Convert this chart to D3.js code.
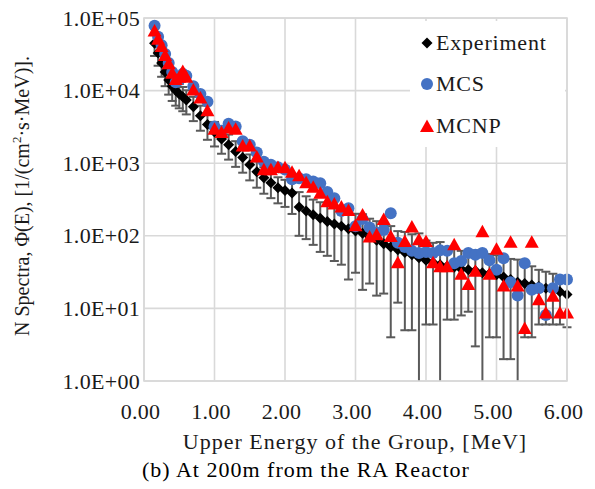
<!DOCTYPE html>
<html><head><meta charset="utf-8">
<script src="https://cdn.jsdelivr.net/npm/d3@7"></script>
<style>body{margin:0;background:#fff}svg{display:block}
svg text{font-family:"Liberation Serif","Times New Roman","DejaVu Serif",serif}</style>
</head><body>
<svg id="c" width="595" height="489"></svg>
<script>
const energy = [0.15,0.2,0.25,0.3,0.35,0.4,0.45,0.5,0.55,0.6,
 0.7,0.8,0.9,1.0,1.1,1.2,1.3,1.4,1.5,1.6,1.7,1.8,1.9,2.0,
 2.1,2.2,2.3,2.4,2.5,2.6,2.7,2.8,2.9,3.0,3.1,3.2,3.3,3.4,3.5,3.6,
 3.7,3.8,3.9,4.0,4.1,4.2,4.3,4.4,4.5,4.6,4.7,4.8,4.9,5.0,5.1,5.2,
 5.3,5.4,5.5,5.6,5.7,5.8,5.9,6.0];
const experiment = [45000,33000,24000,18000,14000,11500,10000,9000,8200,7400,
 6000,4500,3400,2700,2150,1800,1450,1200,950,760,630,540,460,420,
 390,250,220,195,175,158,145,135,125,116,108,97,87,78,70,64,
 59,55,50,46,43,40,38,37,35,34,33,31,30,29,27,25,
 23,22,21,20,19,18,17,15.5];
const experimentErr = [15000,11000,8500,6500,5200,4300,3800,3300,3000,2700,
 2200,1700,1300,1000,800,680,560,460,370,300,250,210,180,170,
 190,150,130,120,115,105,100,95,100,85,90,75,72,62,66,52,
 54,50,58,40,37,42,31,30,27,25,30,33,26,25,25,23,
 24,18,17,14,13,12,11,10];
const mcs = [78000,55000,42000,32000,24000,18000,13000,14000,17000,16000,
 11500,9000,7000,3200,2800,3500,3200,2000,1800,1400,1050,950,880,820,
 600,620,600,560,530,400,330,220,240,135,170,130,110,120,205,80,
 70,62,58,60,58,63,62,42,45,58,55,58,46,34,49,23,
 15,42,18,19,8.1,19,25,25];
const mcnp = [65000,50000,40000,30000,23000,17000,14000,15000,18000,15000,
 10000,7800,5200,2900,2600,3000,2900,1700,1700,1200,800,800,860,850,
 740,660,530,460,380,290,270,245,220,135,190,95,102,165,96,42,
 82,130,87,82,42,37,37,74,29,21,32,112,29,64,20,80,
 20,5.2,80,13,8.5,14.5,8.5,8.5];
const xTicks = [0,1,2,3,4,5,6];
const yTicks = [1,10,100,1000,10000,100000];
const seriesNames = ["Experiment","MCS","MCNP"];

const svg = d3.select("#c");
const L=144, R=567, T=18, B=381;
const x = d3.scaleLinear().domain([0,6]).range([L,R]);
const y = d3.scaleLog().domain([1,100000]).range([B,T]);
const font = "Liberation Serif";
const txt = "#1a1a1a";

const g = svg.append("g");
g.selectAll("line.v").data(xTicks).join("line")
 .attr("x1",d=>x(d)).attr("x2",d=>x(d)).attr("y1",T).attr("y2",B)
 .attr("stroke","#d9d9d9").attr("stroke-width",1.6);
g.selectAll("line.h").data(yTicks).join("line")
 .attr("x1",L).attr("x2",R).attr("y1",d=>y(d)).attr("y2",d=>y(d))
 .attr("stroke","#d9d9d9").attr("stroke-width",1.6);

const xAxis = svg.append("g").attr("transform",`translate(-4,${B})`)
 .call(d3.axisBottom(x).tickValues(xTicks).tickFormat(d3.format(".2f")).tickSize(0).tickPadding(22));
const yAxis = svg.append("g").attr("transform",`translate(${L-1},0)`)
 .call(d3.axisLeft(y).tickValues(yTicks).tickFormat(d=>"1.0E+0"+Math.round(Math.log10(d))).tickSize(0).tickPadding(3));
[xAxis,yAxis].forEach(a=>{a.select(".domain").remove();
 a.attr("font-family",null);
 a.selectAll("text").style("font-family",font).style("letter-spacing","0.3px").attr("font-size",22).attr("fill",txt);});

svg.append("rect").attr("x",410).attr("y",21).attr("width",155).attr("height",126).attr("fill","#fff");

const eb = svg.append("g").attr("stroke","#5a5a5a").attr("stroke-width",2);
energy.forEach((e,i)=>{
  const v=experiment[i], er=experimentErr[i];
  const hi=v+er, lo=Math.max(v-er,1);
  const cx=x(e);
  eb.append("line").attr("x1",cx).attr("x2",cx).attr("y1",y(hi)).attr("y2",y(lo));
  eb.append("line").attr("x1",cx-4.5).attr("x2",cx+4.5).attr("y1",y(hi)).attr("y2",y(hi));
  if(v-er>1) eb.append("line").attr("x1",cx-4.5).attr("x2",cx+4.5).attr("y1",y(lo)).attr("y2",y(lo));
});

const diamond = "M0,-5.5L5.5,0L0,5.5L-5.5,0Z";
const tri = "M0,-7.5L7,5L-7,5Z";
svg.append("g").selectAll("path").data(energy).join("path")
 .attr("d",diamond).attr("fill","#000")
 .attr("transform",(d,i)=>`translate(${x(d)},${y(experiment[i])})`);
svg.append("g").selectAll("circle").data(energy).join("circle")
 .attr("cx",d=>x(d)).attr("cy",(d,i)=>y(mcs[i])).attr("r",6).attr("fill","#4472c4");
svg.append("g").selectAll("path").data(energy).join("path")
 .attr("d",tri).attr("fill","#ff0000")
 .attr("transform",(d,i)=>`translate(${x(d)},${y(mcnp[i])})`);

svg.append("rect").attr("x",L).attr("y",T).attr("width",R-L).attr("height",B-T)
 .attr("fill","none").attr("stroke","#d9d9d9").attr("stroke-width",1.6);

const lg = svg.append("g");
const ly=[43,84,126];
lg.append("path").attr("d",diamond).attr("fill","#000").attr("transform",`translate(427,${ly[0]})`);
lg.append("circle").attr("cx",427).attr("cy",ly[1]).attr("r",6).attr("fill","#4472c4");
lg.append("path").attr("d",tri).attr("fill","#ff0000").attr("transform",`translate(427,${ly[2]+1})`);
lg.selectAll("text").data(seriesNames).join("text")
 .attr("x",436).attr("y",(d,i)=>ly[i]+7).text(d=>d)
 .style("font-family",font).style("letter-spacing","0.8px").attr("font-size",22).attr("fill",txt);

svg.append("text").attr("x",355).attr("y",449).attr("text-anchor","middle")
 .style("font-family",font).style("letter-spacing","1px").attr("font-size",22).attr("fill",txt)
 .text("Upper Energy of the Group, [MeV]");
svg.append("text").attr("x",142).attr("y",477)
 .style("font-family",font).style("letter-spacing","1px").attr("font-size",22).attr("fill","#000")
 .text("(b) At 200m from the RA Reactor");
const yt = svg.append("text").attr("transform","translate(29,196) rotate(-90)")
 .attr("text-anchor","middle").style("font-family",font).attr("font-size",20).attr("fill",txt);
yt.append("tspan").text("N Spectra, \u03A6(E), [1/(cm");
yt.append("tspan").attr("font-size",13).attr("dy",-8).text("2");
yt.append("tspan").attr("dy",8).text("\u00B7s\u00B7MeV)].");
</script>
</body></html>
